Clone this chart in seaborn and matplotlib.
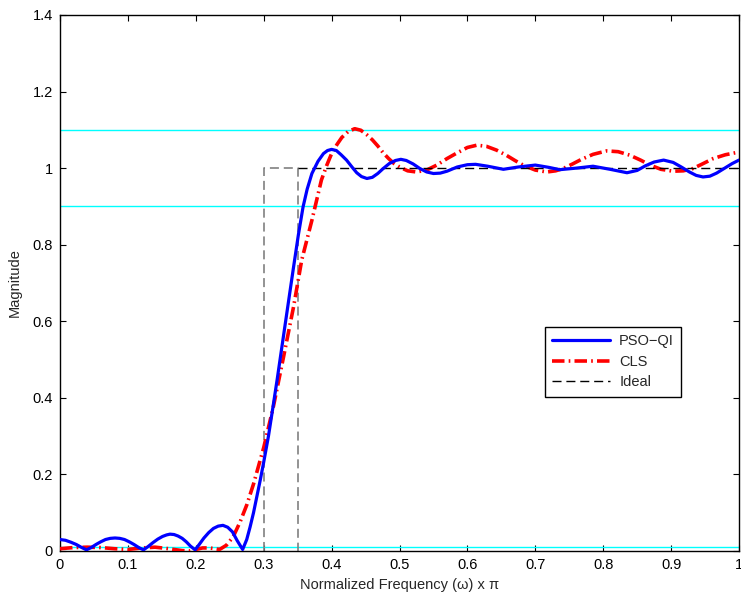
import matplotlib
matplotlib.use("Agg")
import matplotlib.pyplot as plt
import seaborn as sns
import pandas as pd

# PSO-QI magnitude response
pso_f = [0.000, 0.008, 0.016, 0.024, 0.031, 0.039, 0.046, 0.053, 0.060, 0.067,
         0.074, 0.081, 0.088, 0.095, 0.102, 0.109, 0.116, 0.123, 0.130, 0.137,
         0.144, 0.151, 0.157, 0.162, 0.168, 0.174, 0.180, 0.186, 0.192, 0.199,
         0.205, 0.212, 0.219, 0.226, 0.233, 0.240, 0.247, 0.254, 0.261, 0.269,
         0.275, 0.280, 0.285, 0.290, 0.295, 0.300, 0.307, 0.314, 0.320, 0.329,
         0.336, 0.344, 0.351, 0.358, 0.364, 0.371, 0.380, 0.388, 0.394, 0.400,
         0.407, 0.414, 0.422, 0.430, 0.437, 0.444, 0.452, 0.460, 0.468, 0.476,
         0.485, 0.494, 0.502, 0.510, 0.520, 0.530, 0.540, 0.550, 0.560, 0.570,
         0.585, 0.600, 0.612, 0.630, 0.653, 0.675, 0.700, 0.720, 0.736, 0.760,
         0.785, 0.810, 0.835, 0.850, 0.862, 0.875, 0.889, 0.903, 0.915, 0.927,
         0.937, 0.947, 0.957, 0.967, 0.978, 0.990, 1.000]
pso_m = [0.030, 0.028, 0.023, 0.017, 0.010, 0.003, 0.009, 0.017, 0.024, 0.030,
         0.033, 0.034, 0.033, 0.030, 0.024, 0.017, 0.009, 0.003, 0.012, 0.022,
         0.031, 0.038, 0.042, 0.044, 0.043, 0.039, 0.033, 0.024, 0.013, 0.003,
         0.017, 0.034, 0.048, 0.059, 0.065, 0.067, 0.062, 0.050, 0.027, 0.004,
         0.030, 0.063, 0.100, 0.143, 0.186, 0.232, 0.300, 0.380, 0.450, 0.560,
         0.645, 0.742, 0.825, 0.899, 0.945, 0.986, 1.018, 1.038, 1.046, 1.049,
         1.046, 1.035, 1.021, 1.003, 0.988, 0.978, 0.973, 0.976, 0.986, 0.999,
         1.012, 1.020, 1.023, 1.020, 1.011, 0.999, 0.990, 0.986, 0.987, 0.992,
         1.003, 1.009, 1.010, 1.005, 0.997, 1.003, 1.008, 1.002, 0.996, 1.000,
         1.005, 0.997, 0.988, 0.994, 1.006, 1.016, 1.021, 1.015, 1.003, 0.990,
         0.981, 0.977, 0.979, 0.987, 0.999, 1.012, 1.021]

# CLS magnitude response
cls_f = [0.000, 0.020, 0.040, 0.060, 0.080, 0.100, 0.120, 0.140, 0.160, 0.180,
         0.190, 0.200, 0.210, 0.220, 0.235, 0.245, 0.255, 0.265, 0.275, 0.285,
         0.300, 0.314, 0.329, 0.344, 0.356, 0.371, 0.385, 0.393, 0.400, 0.408,
         0.415, 0.424, 0.434, 0.443, 0.452, 0.460, 0.468, 0.476, 0.484, 0.492,
         0.500, 0.512, 0.525, 0.540, 0.555, 0.570, 0.585, 0.600, 0.614, 0.628,
         0.643, 0.657, 0.670, 0.683, 0.700, 0.717, 0.730, 0.741, 0.755, 0.768,
         0.785, 0.805, 0.822, 0.839, 0.855, 0.869, 0.885, 0.903, 0.918, 0.932,
         0.945, 0.962, 0.980, 1.000]
cls_m = [0.006, 0.009, 0.010, 0.009, 0.006, 0.004, 0.008, 0.010, 0.006, 0.001,
         0.000, 0.004, 0.008, 0.008, 0.004, 0.015, 0.037, 0.075, 0.120, 0.175,
         0.270, 0.375, 0.505, 0.638, 0.760, 0.864, 0.969, 1.008, 1.038, 1.062,
         1.080, 1.095, 1.103, 1.099, 1.087, 1.074, 1.058, 1.040, 1.025, 1.012,
         1.003, 0.993, 0.990, 0.995, 1.008, 1.025, 1.040, 1.054, 1.060, 1.057,
         1.047, 1.034, 1.020, 1.007, 0.995, 0.990, 0.993, 0.999, 1.011, 1.023,
         1.036, 1.045, 1.043, 1.034, 1.021, 1.008, 0.997, 0.992, 0.993, 0.999,
         1.010, 1.025, 1.035, 1.042]

# Ideal passband response and transition band edges
ideal_f = [0.35, 1.0]
ideal_m = [1.0, 1.0]
edge_f = [0.30, 0.30, 0.35, 0.35]
edge_m = [0.0, 1.0, 1.0, 0.0]

# Tolerance bands
tol_levels = [1.1, 0.9, 0.01]

x_ticks = [0, 0.1, 0.2, 0.3, 0.4, 0.5, 0.6, 0.7, 0.8, 0.9, 1.0]
x_tick_labels = ["0", "0.1", "0.2", "0.3", "0.4", "0.5", "0.6", "0.7", "0.8", "0.9", "1"]
y_ticks = [0, 0.2, 0.4, 0.6, 0.8, 1.0, 1.2, 1.4]
y_tick_labels = ["0", "0.2", "0.4", "0.6", "0.8", "1", "1.2", "1.4"]

sns.set_style("ticks")
plt.rcParams["font.family"] = ["Liberation Sans", "DejaVu Sans"]
plt.rcParams["lines.scale_dashes"] = False

fig = plt.figure(figsize=(7.41, 6.0), dpi=100)
ax = fig.add_axes([60 / 741, 49 / 600, 679 / 741, 536 / 600])

# tolerance lines
for lvl in tol_levels:
    sns.lineplot(x=[0.0, 1.0], y=[lvl, lvl], ax=ax, color=(0, 1, 1), lw=1.0,
                 estimator=None, sort=False, legend=False, zorder=1)

# transition band edges
sns.lineplot(x=edge_f, y=edge_m, ax=ax, color="#808080", lw=1.2,
             estimator=None, sort=False, legend=False, zorder=2,
             linestyle=(0, (6.5, 3.5)))

pso = pd.DataFrame({"f": pso_f, "m": pso_m})
cls = pd.DataFrame({"f": cls_f, "m": cls_m})
ideal = pd.DataFrame({"f": ideal_f, "m": ideal_m})

sns.lineplot(data=pso, x="f", y="m", ax=ax, color=(0, 0, 1), lw=2.3,
             estimator=None, sort=False, label="PSO\u2212QI", zorder=4)
sns.lineplot(data=cls, x="f", y="m", ax=ax, color=(1, 0, 0), lw=2.6,
             estimator=None, sort=False, label="CLS", zorder=3,
             linestyle=(0, (9.0, 3.0, 1.2, 3.0)))
sns.lineplot(data=ideal, x="f", y="m", ax=ax, color="black", lw=1.0,
             estimator=None, sort=False, label="Ideal", zorder=3,
             linestyle=(0, (6.5, 3.5)))

ax.set_xlim(0, 1)
ax.set_ylim(0, 1.4)
ax.set_xticks(x_ticks)
ax.set_xticklabels(x_tick_labels)
ax.set_yticks(y_ticks)
ax.set_yticklabels(y_tick_labels)
ax.tick_params(direction="in", length=4, width=0.8, labelsize=10.5,
               top=True, right=True, colors="black", pad=5)
for s in ax.spines.values():
    s.set_visible(True)
    s.set_linewidth(1.0)
    s.set_color("black")

ax.set_xlabel("Normalized Frequency (\u03c9) x \u03c0", fontsize=10.5, labelpad=4)
ax.set_ylabel("Magnitude", fontsize=10.5, labelpad=8)

leg = ax.legend(loc="upper left", bbox_to_anchor=(0.714, 0.418), frameon=True,
                fancybox=False, shadow=False, fontsize=10.5, handlelength=4.0,
                borderpad=0.5, labelspacing=0.45, handletextpad=0.6,
                borderaxespad=0)
leg.get_frame().set_edgecolor("black")
leg.get_frame().set_linewidth(1.0)
leg.get_frame().set_alpha(1.0)

fig.savefig("out.png", dpi=100)
